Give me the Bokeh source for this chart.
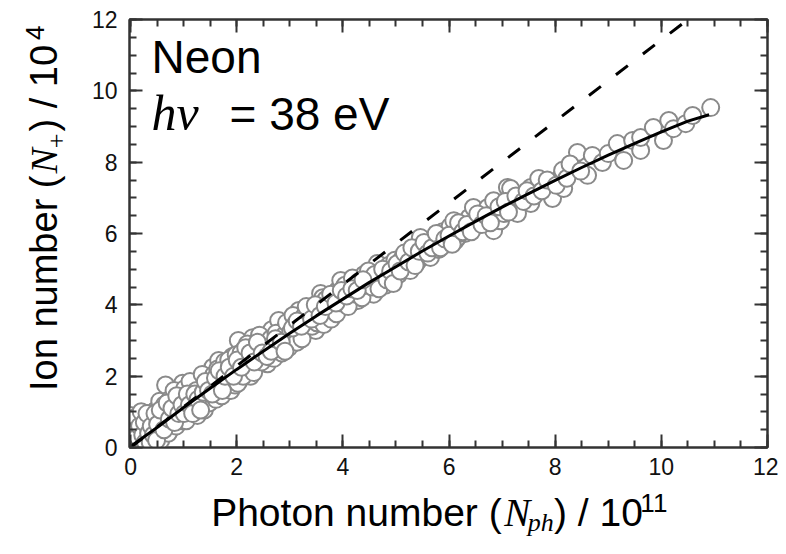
import math
from bokeh.plotting import figure
from bokeh.models import Range1d, LinearAxis, SingleIntervalTicker, Label, ColumnDataSource
from bokeh.layouts import row, column
from bokeh.embed import file_html
from bokeh.resources import INLINE

# ---------------- data ----------------
scatter_x = [
    -0.05, 0.0, 0.02, -0.03, 0.05, 0.08, 0.1, 0.03, 0.12, 0.15, 0.18, 0.2, 0.22, 0.25, 0.27, 0.3, 0.32, 0.35,
    0.38, 0.4, 0.42, 0.45, 0.47, 0.5, 0.06, 0.14, 0.24, 0.01, 0.33, 0.44, 0.09, 0.19, 0.29, 0.36, 0.48,
    0.52, 0.55, 0.58, 0.62, 0.66, 0.68, 0.72, 0.75, 0.79, 0.8, 0.84, 0.88, 0.9, 0.95, 0.98, 1.0, 1.03, 1.06,
    1.1, 1.13, 1.16, 1.2, 1.22, 1.28, 1.3, 1.33, 1.36, 1.4, 1.43, 1.46, 1.49, 0.6, 0.93, 1.18, 1.38,
    1.52, 1.55, 1.58, 1.62, 1.66, 1.66, 1.7, 1.75, 1.8, 1.84, 1.88, 1.92, 1.96, 2.0, 2.03, 2.06, 2.1, 2.14,
    2.18, 2.22, 2.26, 2.3, 2.34, 2.38, 2.41, 2.45, 2.5, 2.55, 2.58, 2.62, 2.66, 2.68, 2.72, 2.76, 2.79, 2.83,
    2.88, 2.92, 2.96, 3.0,
    3.04, 3.08, 3.11, 3.15, 3.17, 3.2, 3.25, 3.3, 3.36, 3.39, 3.45, 3.49, 3.52, 3.58, 3.62, 3.66, 3.7, 3.76,
    3.8, 3.86, 3.9, 3.96, 3.96, 4.02, 4.08, 4.15, 4.2, 4.28, 4.33, 4.4, 4.46, 4.52, 4.58, 4.65, 4.65, 4.72,
    4.8, 4.86, 4.92, 4.98,
    5.05, 5.12, 5.2, 5.27, 5.33, 5.4, 5.46, 5.5, 5.58, 5.65, 5.72, 5.8, 5.88, 5.95, 6.02, 6.09, 6.12, 6.16,
    6.22, 6.3, 6.38, 6.46, 6.5, 6.58, 6.65, 6.73, 6.84, 6.84, 6.9, 6.97, 7.03,
    7.1, 7.16, 7.22, 7.29, 7.35, 7.54, 7.54, 7.69, 7.91, 7.95, 8.1, 8.14, 8.16, 8.35, 8.42, 8.61, 8.7, 8.89,
    9.0, 9.17, 9.29, 9.46, 9.61, 9.61, 9.85, 10.04, 10.14, 10.23, 10.46, 10.59, 10.93,
    0.04, 0.11, 0.16, 0.21, 0.26, 0.31, 0.37, 0.41, 0.46, 0.53, 0.57, 0.61, 0.64, 0.67, 0.71, 0.74, 0.77,
    0.82, 0.86, 0.89, 0.92, 0.96, 0.99,
    1.02, 1.05, 1.08, 1.12, 1.15, 1.19, 1.24, 1.26, 1.31, 1.35, 1.39, 1.42, 1.45, 1.48, 1.53, 1.57, 1.61,
    1.64, 1.68, 1.72, 1.77, 1.81, 1.85, 1.89, 1.93, 1.97, 1.99,
    2.02, 2.05, 2.08, 2.12, 2.16, 2.2, 2.24, 2.28, 2.32, 2.36, 2.4, 2.43, 2.47, 2.52, 2.56, 2.6, 2.64, 2.7,
    2.74, 2.78, 2.81, 2.85, 2.9, 2.94, 2.98,
    3.02, 3.06, 3.1, 3.13, 3.19, 3.23, 3.28, 3.33, 3.38, 3.42, 3.47, 3.51, 3.55, 3.6, 3.64, 3.68, 3.73, 3.78,
    3.83, 3.88, 3.93, 3.98,
    4.04, 4.1, 4.12, 4.18, 4.24, 4.3, 4.36, 4.42, 4.48, 4.55, 4.6, 4.68, 4.75, 4.83, 4.9, 4.95,
    5.02, 5.08, 5.16, 5.24, 5.3, 5.36, 5.44, 5.53, 5.6, 5.68, 5.76, 5.84, 5.92, 6.0, 6.06, 6.18, 6.26, 6.34,
    6.42, 6.54, 6.62, 6.7, 6.78, 6.94,
    7.06, 7.12, 7.26, 7.4, 7.47, 7.6, 7.75, 7.85, 8.02, 8.22, 8.28, 8.48,
    -0.06, -0.02, 0.0, 0.03, 0.07, 0.1, 0.13, 0.17, 0.2, 0.23, 0.26, 0.28, 0.31, 0.34, 0.37, 0.39, 0.43, 0.46,
    0.49, 0.51,
    0.56, 0.63, 0.69, 0.73, 0.78, 0.83, 0.87, 0.91, 0.97, 1.01, 1.07, 1.11, 1.17, 1.21, 1.27, 1.32, 1.37,
    1.41, 1.47,
    1.54, 1.6, 1.67, 1.73, 1.78, 1.86, 1.94, 2.01, 2.09, 2.17, 2.25, 2.33, 2.39, 2.48, 2.57, 2.65, 2.73,
    2.84, 2.91,
    3.05, 3.14, 3.22, 3.31, 3.41, 3.48, 3.57, 3.67, 3.77, 3.87, 3.97, 4.07, 4.17, 4.27, 4.38,
]
scatter_y = [
    0.05, 0.15, 0.35, 0.5, 0.0, 0.25, 0.6, 0.75, 0.1, 0.4, 0.85, 0.2, 0.55, 0.05, 0.35, 0.75, 0.15, 0.5,
    0.95, 0.3, 0.65, 0.1, 0.45, 0.85, 0.45, 0.7, 0.9, 0.25, 0.05, 0.8, 0.05, 0.5, 0.55, 0.25, 1.05,
    0.3, 1.3, 0.65, 0.95, 1.75, 0.45, 1.1, 0.6, 0.55, 1.4, 0.9, 1.2, 0.7, 1.55, 1.8, 0.85, 1.25, 1.0,
    1.6, 0.95, 1.35, 1.75, 1.05, 1.12, 1.5, 1.9, 1.3, 1.65, 1.2, 2.0, 1.45, 0.35, 1.15, 1.45, 1.75,
    1.85, 2.25, 1.4, 1.7, 2.44, 1.51, 2.0, 1.75, 2.3, 1.65, 2.1, 2.55, 1.96, 2.2, 3.0, 1.9, 2.45, 2.75,
    2.15, 2.5, 2.0, 3.08, 2.6, 2.3, 2.44, 2.85, 2.55, 3.1, 2.35, 2.8, 3.3, 2.72, 2.95, 2.6, 3.56, 3.15,
    2.85, 3.35, 3.05, 3.45,
    2.9, 3.6, 3.0, 3.3, 3.84, 3.2, 3.55, 3.35, 3.75, 3.36, 3.6, 3.28, 3.9, 4.32, 4.2, 3.7, 4.0, 3.85,
    4.25, 3.95, 4.4, 3.92, 4.68, 4.2, 4.5, 4.05, 4.6, 4.12, 4.45, 4.85, 4.4, 4.7, 4.3, 5.16, 4.6, 4.9,
    4.55, 5.1, 4.75, 5.25,
    4.85, 5.3, 5.05, 4.96, 5.45, 5.2, 5.89, 5.35, 5.7, 5.33, 5.85, 5.55, 6.05, 5.7, 6.2, 6.36, 5.8, 5.89,
    6.15, 6.0, 6.45, 6.73, 6.2, 6.4, 6.45, 6.73, 6.92, 6.08, 6.55, 6.36, 6.56,
    7.29, 7.26, 6.73, 6.56, 7.01, 7.29, 6.84, 7.54, 7.4, 6.98, 7.57, 7.77, 7.26, 7.85, 8.27, 7.63, 8.19, 7.99,
    8.24, 8.52, 8.05, 8.61, 8.33, 8.69, 8.97, 8.61, 9.17, 8.94, 9.08, 9.31, 9.53,
    0.6, 0.35, 0.15, 0.75, 0.45, 0.3, 0.7, 0.05, 0.6, 0.9, 0.2, 0.75, 1.2, 0.95, 0.4, 1.35, 0.85,
    1.6, 0.6, 1.0, 1.45, 0.75, 1.3,
    1.65, 0.75, 1.3, 1.85, 1.1, 1.25, 1.6, 0.9, 1.25, 2.05, 1.05, 1.5, 1.75, 1.25, 1.6, 2.05, 1.35,
    2.2, 1.8, 1.45, 2.4, 1.9, 2.45, 1.6, 2.25, 1.75, 2.6,
    1.8, 2.35, 2.65, 2.0, 2.55, 2.9, 2.3, 2.7, 2.1, 2.85, 2.6, 3.15, 2.4, 2.75, 2.9, 2.55, 3.05, 2.5,
    3.2, 2.8, 3.0, 2.65, 3.15, 3.5, 2.8,
    3.25, 3.7, 3.45, 2.95, 3.5, 3.05, 3.7, 3.5, 3.9, 3.4, 3.75, 3.5, 3.95, 3.6, 3.45, 4.15, 3.9, 3.6,
    4.1, 3.75, 4.25, 4.05,
    4.55, 3.95, 4.3, 4.75, 4.3, 4.65, 4.2, 4.55, 4.95, 4.5, 4.85, 4.45, 5.0, 4.7, 4.95, 4.6,
    5.15, 4.95, 5.45, 5.2, 5.6, 5.1, 5.5, 5.75, 5.45, 5.6, 6.0, 5.6, 5.85, 5.95, 5.7, 6.3, 6.05, 6.25,
    6.05, 6.55, 6.25, 6.5, 6.3, 6.75,
    6.9, 6.6, 7.05, 6.9, 7.2, 7.05, 7.2, 7.5, 7.35, 7.55, 7.95, 7.75,
    0.3, 0.65, 0.9, 0.1, 0.55, 0.85, 0.3, 0.6, 1.0, 0.35, 0.7, 0.15, 0.95, 0.4, 0.15, 0.6, 0.35, 0.95,
    0.2, 0.65,
    1.05, 0.5, 1.25, 0.8, 1.1, 0.7, 1.45, 0.95, 1.2, 0.95, 1.5, 1.2, 0.95, 1.5, 1.35, 1.05, 1.55,
    1.85, 1.6,
    1.5, 1.95, 2.15, 1.6, 2.0, 2.25, 2.0, 2.45, 2.25, 2.8, 2.65, 2.4, 2.95, 2.65, 2.55, 2.7, 3.05,
    2.95, 2.7,
    3.35, 3.55, 3.4, 3.95, 3.6, 4.0, 3.7, 3.95, 4.3, 4.05, 4.4, 4.25, 4.45, 4.4, 4.7,
]

fit_x = [0.0, 0.5, 1.0, 1.5, 2.0, 2.5, 3.0, 3.5, 4.0, 4.5, 5.0, 5.5, 6.0, 6.5, 7.0, 7.5, 8.0, 8.5, 9.0, 9.5,
         10.0, 10.5, 10.9]
fit_y = [0.03, 0.56, 1.12, 1.66, 2.19, 2.70, 3.20, 3.69, 4.16, 4.63, 5.07, 5.51, 5.93, 6.34, 6.74, 7.12, 7.49,
         7.85, 8.20, 8.53, 8.85, 9.15, 9.33]

linear_x = [0.0, 10.5]
linear_y = [0.0, 12.0]

x_ticks_interval = 2
y_ticks_interval = 2

# ---------------- layout constants (pixels) ----------------
TOTAL_W, TOTAL_H = 778, 538
LEFT_W = 70
MAIN_W, MAIN_H = TOTAL_W - LEFT_W, 486
BOT_H = TOTAL_H - MAIN_H
FRAME_L, FRAME_T = 129, 19
FRAME_W, FRAME_H = 638, 428
AX = "#333333"
SANS = "Liberation Sans"
SERIF = "Liberation Serif"
BASE_K = 0.38                        # label anchor -> baseline offset (em)


def text_fig(w, h):
    f = figure(width=w, height=h, x_range=Range1d(0, w), y_range=Range1d(0, h),
               min_border=0, min_border_left=0, min_border_right=0, min_border_top=0, min_border_bottom=0,
               x_axis_location=None, y_axis_location=None, toolbar_location=None,
               output_backend="svg", outline_line_color=None,
               background_fill_color="white", border_fill_color="white")
    f.xgrid.visible = False
    f.ygrid.visible = False
    return f


# ---------------- main figure ----------------
p = figure(width=MAIN_W, height=MAIN_H, output_backend="svg", toolbar_location=None,
           x_range=Range1d(-0.02, 12), y_range=Range1d(0, 12),
           min_border_left=FRAME_L - LEFT_W, min_border_right=MAIN_W - (FRAME_L - LEFT_W) - FRAME_W,
           min_border_top=FRAME_T, min_border_bottom=MAIN_H - FRAME_T - FRAME_H,
           background_fill_color="white", border_fill_color="white")
p.xgrid.visible = False
p.ygrid.visible = False
p.outline_line_color = AX
p.outline_line_width = 2


def style_axis(ax, show_labels):
    ax.axis_line_color = AX
    ax.axis_line_width = 2
    ax.major_tick_line_color = AX
    ax.major_tick_line_width = 2
    ax.minor_tick_line_color = AX
    ax.minor_tick_line_width = 2
    ax.major_tick_in = 13
    ax.major_tick_out = 0
    ax.minor_tick_in = 7
    ax.minor_tick_out = 0
    if show_labels:
        ax.major_label_text_font = SANS
        ax.major_label_text_font_size = "23px"
        ax.major_label_text_color = "#111111"
    else:
        ax.major_label_text_font_size = "0px"
        ax.major_label_standoff = 0
        ax.major_label_text_alpha = 0


p.xaxis.ticker = SingleIntervalTicker(interval=x_ticks_interval, num_minor_ticks=4)
p.yaxis.ticker = SingleIntervalTicker(interval=y_ticks_interval, num_minor_ticks=4)
style_axis(p.xaxis[0], True)
style_axis(p.yaxis[0], True)
p.xaxis.major_label_standoff = 10
p.yaxis.major_label_standoff = 12

top_ax = LinearAxis(ticker=SingleIntervalTicker(interval=x_ticks_interval, num_minor_ticks=4))
right_ax = LinearAxis(ticker=SingleIntervalTicker(interval=y_ticks_interval, num_minor_ticks=4))
style_axis(top_ax, False)
style_axis(right_ax, False)
p.add_layout(top_ax, "above")
p.add_layout(right_ax, "right")

src = ColumnDataSource(dict(x=scatter_x, y=scatter_y))
p.scatter("x", "y", source=src, marker="circle", size=17, fill_color="white",
          line_color="#8a8a8a", line_width=2)
p.line(linear_x, linear_y, line_color="black", line_width=3, line_dash="15 19")
p.line(fit_x, fit_y, line_color="black", line_width=3)

# in-frame annotation (picture pixel -> data)
X0_PX, XSCALE = 130.06, 53.08
Y0_PX, YSCALE = 447.0, 35.667


def in_label(text, px, base_py, font, size, style="normal"):
    py = base_py - BASE_K * size
    p.add_layout(Label(x=(px - X0_PX) / XSCALE, y=(Y0_PX - py) / YSCALE, text=text, text_font=font,
                       text_font_size=f"{size}px", text_font_style=style, text_color="black",
                       text_align="left", text_baseline="alphabetic"))


in_label("Neon", 151, 74, SANS, 46)
in_label("hν", 151, 131, SERIF, 50, "italic")
in_label("= 38 eV", 229, 131, SANS, 46)

# ---------------- axis titles (mixed fonts) ----------------
TIMESI = {'N': .667, 'p': .5, 'h': .5, '+': .564}
ARIAL = {' ': .278, ')': .333, '/': .278, '1': .556, '0': .556}


def wid(s, table, size):
    return sum(table[c] for c in s) * size


bot = text_fig(MAIN_W, BOT_H)


def b_label(text, px, base_py, font, size, style="normal", align="left"):
    py = base_py - BASE_K * size
    bot.add_layout(Label(x=px - LEFT_W, y=TOTAL_H - py, text=text, text_font=font,
                         text_font_size=f"{size}px", text_font_style=style, text_color="black",
                         text_align=align, text_baseline="alphabetic"))


F, SF = 39, 26
base = 527
n_x = 484
b_label("Photon number (", n_x - 1, base, SANS, F, align="right")
xp = n_x + 2
b_label("N", xp, base, SERIF, F, "italic"); xp += wid("N", TIMESI, F)
b_label("ph", xp, base + 5, SERIF, SF, "italic"); xp += wid("ph", TIMESI, SF) + 3
b_label(") / 10", xp, base, SANS, F); xp += wid(") / 10", ARIAL, F) + 7
b_label("11", xp, base - 15, SANS, SF)

left = text_fig(LEFT_W, TOTAL_H)
rot = math.pi / 2


def l_label(text, base_px, py, font, size, style="normal", align="left"):
    px = base_px - BASE_K * size
    left.add_layout(Label(x=px, y=TOTAL_H - py, text=text, text_font=font,
                          text_font_size=f"{size}px", text_font_style=style, text_color="black",
                          text_align=align, text_baseline="alphabetic", angle=rot))


F, SF = 38, 26
bx = 58
n_y = 174
l_label("Ion number (", bx, n_y + 1, SANS, F, align="right")
yp = n_y - 1
l_label("N", bx, yp, SERIF, F, "italic"); yp -= wid("N", TIMESI, F)
l_label("+", bx + 8, yp, SERIF, SF); yp -= wid("+", TIMESI, SF) + 2
l_label(") / 10", bx, yp, SANS, F); yp -= wid(") / 10", ARIAL, F) + 5
l_label("4", bx - 14, yp, SANS, SF)

layout = row(left, column(p, bot))
open("out.html", "w").write(file_html(layout, INLINE))
